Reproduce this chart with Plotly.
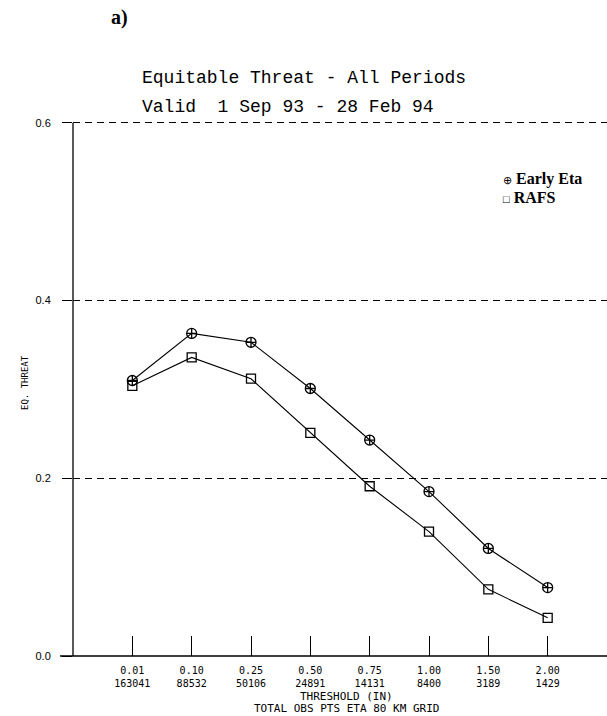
import plotly.graph_objects as go

# Precipitation thresholds (inches) and number of observed points per threshold
thresholds = ["0.01", "0.10", "0.25", "0.50", "0.75", "1.00", "1.50", "2.00"]
obs_points = ["163041", "88532", "50106", "24891", "14131", "8400", "3189", "1429"]

# Equitable threat scores
early_eta = [0.310, 0.363, 0.353, 0.301, 0.243, 0.185, 0.121, 0.077]
rafs = [0.304, 0.336, 0.312, 0.251, 0.191, 0.140, 0.075, 0.043]

y_ticks = [0.0, 0.2, 0.4, 0.6]
y_labels = ["0.0", "0.2", "0.4", "0.6"]
Y_MAX = 0.602  # a hair above 0.6 so the top dashed gridline is drawn

W, H = 607, 716
M_L, M_R, M_T, M_B = 73, 0, 121, 60
PW, PH = W - M_L - M_R, H - M_T - M_B


def px(x):
    return (x - M_L) / PW


def py(y):
    return (H - M_B - y) / PH


idx = list(range(len(thresholds)))
tick_text = [f"{t}<br>{n}" for t, n in zip(thresholds, obs_points)]

fig = go.Figure()
fig.add_trace(go.Scatter(
    x=idx, y=early_eta, mode="lines+markers", name="Early Eta",
    line=dict(color="black", width=1.1),
    marker=dict(symbol="circle-cross-open", size=10, color="black",
                line=dict(color="black", width=1.3)),
    showlegend=False, cliponaxis=False,
))
fig.add_trace(go.Scatter(
    x=idx, y=rafs, mode="lines+markers", name="RAFS",
    line=dict(color="black", width=1.1),
    marker=dict(symbol="square-open", size=9, color="black",
                line=dict(color="black", width=1.3)),
    showlegend=False, cliponaxis=False,
))

mono = "DejaVu Sans Mono"
fig.update_xaxes(
    range=[-1, 8], tickmode="array", tickvals=idx, ticktext=tick_text,
    ticks="inside", ticklen=20, tickwidth=1.2, tickcolor="black",
    ticklabelstandoff=7,
    tickfont=dict(family=mono, size=10, color="black"),
    showgrid=False, zeroline=False, showline=False,
)
fig.update_yaxes(
    range=[0, Y_MAX], tickmode="array", tickvals=y_ticks, ticktext=y_labels,
    ticks="outside", ticklen=10, tickwidth=1.2, tickcolor="black",
    ticklabelstandoff=9,
    tickfont=dict(family="Liberation Sans", size=11, color="black"),
    showgrid=True, gridcolor="black", gridwidth=1, griddash="7px,5px",
    zeroline=False, showline=False,
)

# axis lines: x-axis runs past the y-axis on the left, y-axis drops below zero
fig.add_shape(type="line", xref="paper", yref="paper",
              x0=px(60), x1=1, y0=0, y1=0,
              line=dict(color="black", width=1.3))
fig.add_shape(type="line", xref="paper", yref="y",
              x0=0, x1=0, y0=-0.024, y1=0.6,
              line=dict(color="black", width=1.3))

annotations = [
    dict(text="<b>a)</b>", x=px(119), y=py(18),
         font=dict(family="Liberation Serif", size=20)),
    dict(text="Equitable Threat - All Periods", x=px(304), y=py(78),
         font=dict(family="Liberation Mono", size=18)),
    dict(text="Valid  1 Sep 93 - 28 Feb 94", x=px(288), y=py(107),
         font=dict(family="Liberation Mono", size=18)),
    dict(text="EQ. THREAT", x=px(25), y=py(383), textangle=-90,
         font=dict(family=mono, size=9)),
    dict(text="THRESHOLD (IN)", x=px(346), y=py(696),
         font=dict(family=mono, size=11)),
    dict(text="TOTAL OBS PTS ETA 80 KM GRID", x=px(346), y=py(708),
         font=dict(family=mono, size=11)),
    dict(text='<span style="font-size:11px">\u2295</span> <b>Early Eta</b>',
         x=px(501), y=py(179), xanchor="left",
         font=dict(family="Liberation Serif", size=16)),
    dict(text='<span style="font-size:11px">\u25a1</span> <b>RAFS</b>',
         x=px(501), y=py(197), xanchor="left",
         font=dict(family="Liberation Serif", size=16)),
]
for a in annotations:
    a.setdefault("xanchor", "center")
    a.update(xref="paper", yref="paper", yanchor="middle", showarrow=False)
    a["font"].setdefault("color", "black")
fig.update_layout(annotations=annotations)

fig.update_layout(
    width=W, height=H,
    margin=dict(l=M_L, r=M_R, t=M_T, b=M_B, pad=0),
    paper_bgcolor="white", plot_bgcolor="white",
    showlegend=False,
)

fig.write_html("out.html", config={"displayModeBar": False})
